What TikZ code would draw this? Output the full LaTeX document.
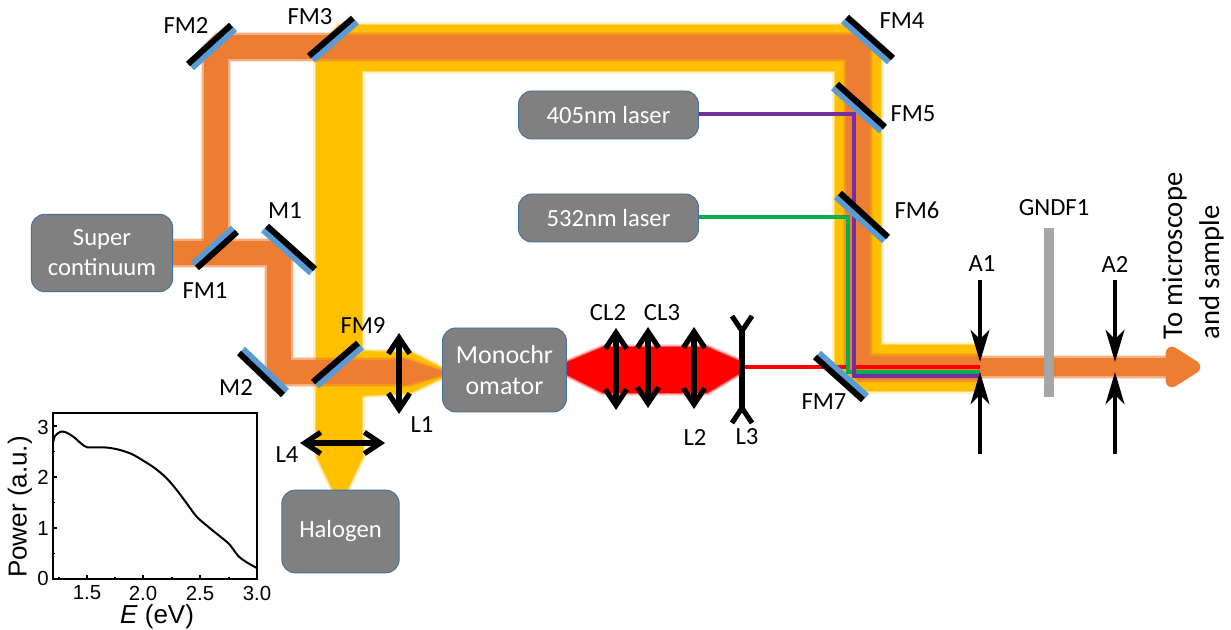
\documentclass[tikz,border=0pt]{standalone}
\usepackage{fontspec}
\setmainfont{Carlito}
\newfontfamily\plotfont{Liberation Sans}
\usepackage{tikz}
\usetikzlibrary{arrows.meta}
\definecolor{beamorange}{HTML}{ED7D31}
\definecolor{beamyellow}{HTML}{FFC000}
\definecolor{mirrorblue}{HTML}{5B9BD5}
\definecolor{boxgray}{HTML}{808080}
\definecolor{boxline}{HTML}{41719C}
\definecolor{filtergray}{HTML}{A6A6A6}
\definecolor{laserviolet}{HTML}{7030A0}
\definecolor{lasergreen}{HTML}{00B050}

\begin{document}
\begin{tikzpicture}[
    x=0.75pt,
    y=-0.75pt,
    font=\fontsize{18.5}{22.5}\selectfont,
      source/.style={rectangle, rounded corners=10pt, draw=boxline, fill=boxgray, text=white, align=center, inner sep=0pt, line width=0.7pt},
      label/.style={inner sep=0pt, text=black},
      plotlabel/.style={inner sep=0pt, text=black, font=\plotfont\fontsize{15.3}{18}\selectfont},
      plottitle/.style={inner sep=0pt, text=black, font=\plotfont\fontsize{19.5}{22}\selectfont},
      beam/.style n args={2}{draw=#1, line width=#2, line join=bevel,
        preaction={draw=#1, opacity=0.22, line width=#2+4pt, line join=bevel},
        preaction={draw=#1, opacity=0.5, line width=#2+1.8pt, line join=bevel}},
      taper/.style={fill=#1,
        preaction={draw=#1, opacity=0.22, line width=4pt, line join=round},
        preaction={draw=#1, opacity=0.5, line width=1.8pt, line join=round}},
      laser/.style={line width=3pt, line join=miter},
      lens/.style={line width=3.9pt, {Straight Barb[length=12pt,width=16pt,line width=3.9pt]}-{Straight Barb[length=12pt,width=16pt,line width=3.9pt]}},
      lensfork/.style={line width=3.8pt, line join=round},
      aperture/.style={line width=3.7pt, -{Stealth[length=24pt,width=14pt,inset=7pt]}},
      mirrorback/.style={line width=4.5pt, draw=black},
      mirrorfront/.style={line width=4.5pt, draw=mirrorblue},
      plottick/.style={line width=0.8pt}
    ]
      \useasboundingbox (0,0) rectangle (1231,630);

      \coordinate (fmone) at (216,253);
      \coordinate (fmtwo) at (216,47);
      \coordinate (fmfour) at (858,47);
      \coordinate (fmseven) at (858,368);
      \coordinate (mone) at (279,253);
      \coordinate (mtwo) at (279,372);
      \coordinate (aone) at (980,368);

      \path[taper=beamyellow] (317,440) -- (317,457) -- (333,490) -- (347,490) -- (363,457) -- (363,440) -- cycle;
      \draw[beam={beamyellow}{34.5pt}] (339,445) -- (339,48) -- (858,48) -- (fmseven) -- (aone);
      \path[taper=beamyellow] (340,351) -- (410,352) -- (442,368) -- (442,378) -- (410,393) -- (340,397) -- cycle;

      \draw[beam={beamorange}{18.5pt}] (173,253) -- (mone) -- (mtwo) -- (405,372);
      \path[taper=beamorange] (400,360) -- (408,360) -- (442,371) -- (442,375) -- (408,385) -- (400,385) -- cycle;
      \draw[beam={beamorange}{18.5pt}] (fmone) -- (fmtwo) -- (fmfour) -- (fmseven) -- (aone);
      \draw[beam={beamorange}{14pt}] (980,367) -- (1168,367);
      \path[taper=beamorange] (1170,350) -- (1197,367) -- (1170,384) -- cycle;
      \filldraw[beamorange, line width=9.5pt, line join=round] (1172,353) -- (1194,367) -- (1172,381) -- cycle;

      \path[taper=red] (567,362) -- (603,347) -- (707,347) -- (742,362) -- (742,372) -- (707,393) -- (603,393) -- (567,375) -- cycle;

      \node[source, minimum width=106pt, minimum height=58pt] (supercontinuum) at (102,253) {Super\\continuum};
      \node[source, minimum width=135pt, minimum height=36pt] (laserviolet) at (608.5,115) {405nm laser};
      \node[source, minimum width=135pt, minimum height=36pt] (lasergreen) at (608.5,218) {532nm laser};
      \node[source, minimum width=93pt, minimum height=63pt, font=\fontsize{19.5}{23}\selectfont] (monochromator) at (504.5,370) {Monochr\\omator};
      \node[source, minimum width=88pt, minimum height=62pt] (halogen) at (340.5,531.5) {Halogen};

      \coordinate (redstart) at (742,367);
      \draw[laser, draw=red] (redstart) -- (850,367);
      \draw[laser, draw=lasergreen] (lasergreen.east) ++(0,-1) -- (848,217) -- (848,372) -- (980,372);
      \draw[laser, draw=laserviolet] (laserviolet.east) ++(0,-1) -- (854,114) -- (854,376) -- (980,376);
      \draw[laser, draw=red] (856,367) -- (980,367);

      \foreach \xa/\ya/\xb/\yb/\dx/\dy in {188/64/231/25/4/4, 309/56/353/18/4/4, 197/268/237/232/-4/-4, 267/226/315/269/-4/4, 239/353/283/395/4/-4, 313/382/358/343/4/4, 847/17/893/58/-4/4, 837/84/885/127/-4/4, 840/193/888/237/-4/4, 815/357/863/400/4/-4}
      {
        \draw[mirrorfront] (\xa+\dx,\ya+\dy) -- (\xb+\dx,\yb+\dy);
        \draw[mirrorback] (\xa,\ya) -- (\xb,\yb);
      }

      \draw[lens] (399,333) -- (399,414);
      \draw[lens] (300,443) -- (385,443);
      \draw[lens] (616,328) -- (616,410);
      \draw[lens] (648,327) -- (648,408);
      \draw[lens] (694,327) -- (694,409);
      \draw[lensfork] (732,316) -- (742,331) -- (752,316);
      \draw[lensfork] (732,423) -- (742,408) -- (752,423);
      \draw[lensfork] (742,331) -- (742,408);

      \fill[filtergray] (1044,228) rectangle (1054,397);

      \draw[aperture] (980,280) -- (980,362);
      \draw[aperture] (980,454) -- (980,372);
      \draw[aperture] (1115,280) -- (1115,362);
      \draw[aperture] (1115,454) -- (1115,372);

      \node[label] (labelfmone) at (205,291) {FM1};
      \node[label] (labelfmtwo) at (186,26) {FM2};
      \node[label] (labelfmthree) at (310,17) {FM3};
      \node[label] (labelfmfour) at (902,21) {FM4};
      \node[label] (labelfmfive) at (913,114) {FM5};
      \node[label] (labelfmsix) at (917,210) {FM6};
      \node[label] (labelfmseven) at (824,402) {FM7};
      \node[label] (labelfmnine) at (363,325) {FM9};
      \node[label] (labelmone) at (285,211) {M1};
      \node[label] (labelmtwo) at (236,387) {M2};
      \node[label] (labellone) at (422,425) {L1};
      \node[label] (labelltwo) at (695,437) {L2};
      \node[label] (labellthree) at (747,437) {L3};
      \node[label] (labellfour) at (287,455) {L4};
      \node[label] (labelcltwo) at (608,313) {CL2};
      \node[label] (labelclthree) at (662,313) {CL3};
      \node[label] (labelgndf) at (1054,208) {GNDF1};
      \node[label] (labelaone) at (982,264) {A1};
      \node[label] (labelatwo) at (1115,264) {A2};
      \node[label, rotate=90, align=left, font=\fontsize{21.5}{27.75}\selectfont] (labeloutput) at (1193,256) {To microscope\\and sample};

      \draw[line width=1.5pt] (53,413) rectangle (257,579);
      \foreach \tickx in {87,143,200} {
        \draw[plottick] (\tickx,579) -- (\tickx,575);
      }
      \foreach \tickx in {59,115,172,229} {
        \draw[plottick] (\tickx,579) -- (\tickx,577);
      }
      \foreach \ticky in {528,477,426} {
        \draw[plottick] (53,\ticky) -- (57,\ticky);
      }
      \foreach \ticky in {553.5,502.5,451.5} {
        \draw[plottick] (53,\ticky) -- (55,\ticky);
      }
      \draw[line width=1.5pt, smooth] plot coordinates {(53.3,441.7) (55,436) (60,432) (65,432) (73.3,436.7) (81.7,444) (87.3,447.3) (96.7,447.3) (108.3,447.7) (120,450) (131.7,454) (143.3,460.7) (155,468.3) (166.7,478.3) (176.7,490) (186.7,503.3) (196.7,516.7) (210,528.3) (223.3,539) (230,545) (238.3,556) (246.7,562.3) (257.3,568.3)};

      \node[plotlabel] (ythree) at (43,427) {3};
      \node[plotlabel] (ytwo) at (43,477) {2};
      \node[plotlabel] (yone) at (43,528) {1};
      \node[plotlabel] (yzero) at (43,578) {0};
      \node[plotlabel] (xonefive) at (87,593) {1.5};
      \node[plotlabel] (xtwo) at (143,593) {2.0};
      \node[plotlabel] (xtwofive) at (200,593) {2.5};
      \node[plotlabel] (xthree) at (257,593) {3.0};
      \node[plottitle] (xtitle) at (157,617) {\textit{E} (eV)};
      \node[plottitle, rotate=90] (ytitle) at (20,507) {Power (a.u.)};
    \end{tikzpicture}
\end{document}
